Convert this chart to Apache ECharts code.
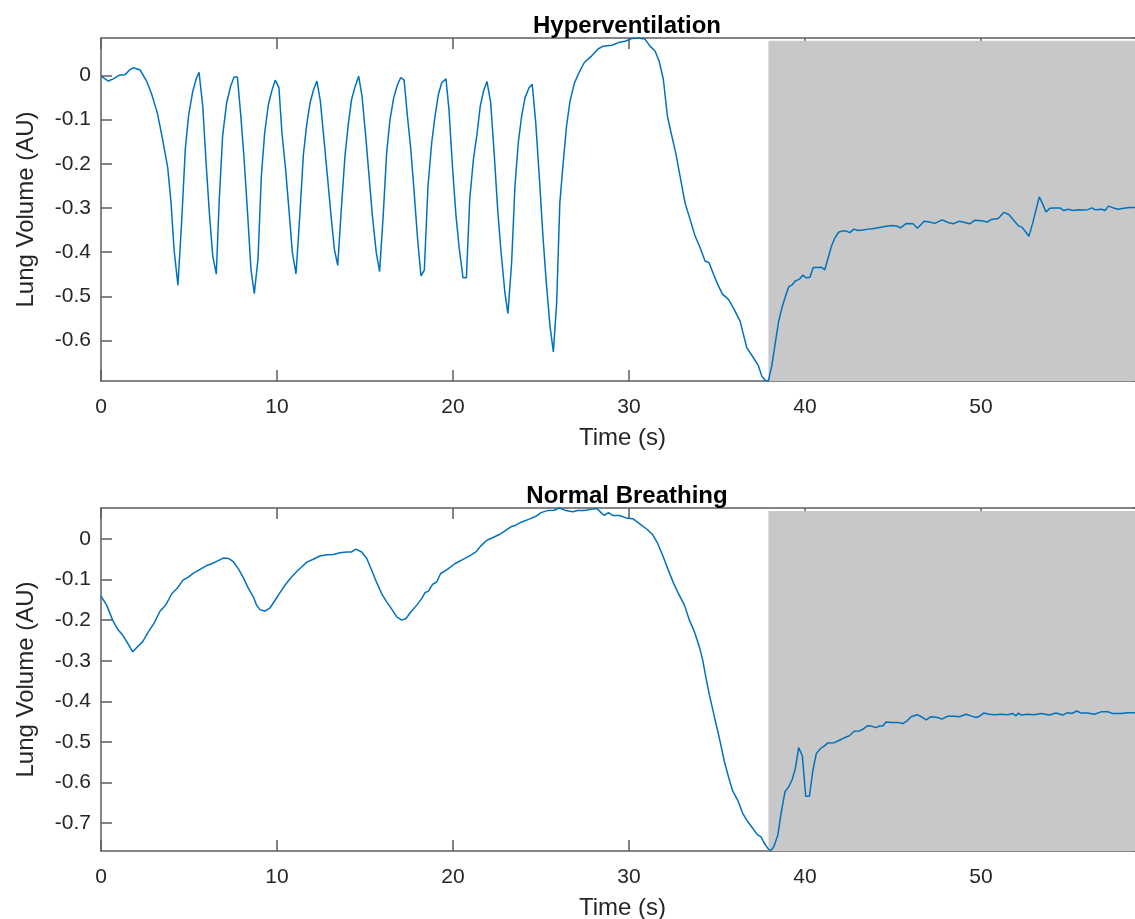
<!DOCTYPE html>
<html>
<head>
<meta charset="utf-8">
<title>Lung Volume</title>
<script src="https://cdn.jsdelivr.net/npm/echarts@6/dist/echarts.min.js"></script>
<style>
  html, body { margin: 0; padding: 0; background: #ffffff; }
  #chart { width: 1135px; height: 919px; }
</style>
</head>
<body>
<div id="chart"></div>
<script>
// Panel titles and axis names
const panelTitles = ['Hyperventilation', 'Normal Breathing'];
const xAxisName = 'Time (s)';
const yAxisName = 'Lung Volume (AU)';

// Hyperventilation trace: [time (s), lung volume (AU)]
const hyperSamples = [
  [0, -0.002], [0.42, -0.013], [0.70, -0.008], [1.02, 0.000], [1.36, 0.001], [1.65, 0.013],
  [1.84, 0.017], [2.22, 0.012], [2.59, -0.013], [2.88, -0.043], [3.2, -0.085], [3.5, -0.145],
  [3.79, -0.209], [3.98, -0.288], [4.15, -0.394], [4.37, -0.475], [4.58, -0.333], [4.79, -0.167],
  [4.98, -0.090], [5.2, -0.039], [5.4, -0.009], [5.57, 0.007], [5.78, -0.069], [5.97, -0.198],
  [6.16, -0.313], [6.35, -0.409], [6.55, -0.450], [6.72, -0.281], [6.91, -0.137], [7.14, -0.062],
  [7.37, -0.024], [7.56, -0.004], [7.75, -0.004], [7.93, -0.085], [8.12, -0.183], [8.33, -0.313],
  [8.52, -0.439], [8.71, -0.494], [8.92, -0.416], [9.11, -0.228], [9.3, -0.130], [9.51, -0.066],
  [9.72, -0.033], [9.9, -0.011], [10.11, -0.028], [10.28, -0.130], [10.49, -0.213], [10.68, -0.305],
  [10.87, -0.400], [11.08, -0.449], [11.27, -0.333], [11.5, -0.179], [11.69, -0.111], [11.88, -0.062],
  [12.08, -0.032], [12.27, -0.013], [12.46, -0.058], [12.65, -0.137], [12.88, -0.235], [13.07, -0.318],
  [13.26, -0.394], [13.45, -0.430], [13.65, -0.305], [13.86, -0.183], [14.05, -0.111], [14.24, -0.054],
  [14.45, -0.024], [14.64, -0.002], [14.83, -0.047], [15.04, -0.137], [15.23, -0.228], [15.42, -0.318],
  [15.64, -0.401], [15.83, -0.444], [16.04, -0.313], [16.23, -0.175], [16.42, -0.100], [16.63, -0.051],
  [16.84, -0.022], [17.03, -0.005], [17.22, -0.011], [17.41, -0.092], [17.6, -0.167], [17.78, -0.258],
  [17.99, -0.371], [18.18, -0.454], [18.37, -0.441], [18.58, -0.250], [18.79, -0.152], [18.98, -0.092],
  [19.17, -0.043], [19.36, -0.017], [19.6, -0.008], [19.77, -0.077], [19.98, -0.213], [20.17, -0.318],
  [20.36, -0.394], [20.57, -0.458], [20.76, -0.458], [20.95, -0.281], [21.16, -0.190], [21.36, -0.134],
  [21.55, -0.069], [21.74, -0.035], [21.93, -0.014], [22.14, -0.062], [22.35, -0.183], [22.54, -0.305],
  [22.73, -0.401], [22.95, -0.492], [23.12, -0.539], [23.33, -0.424], [23.52, -0.250], [23.71, -0.152],
  [23.9, -0.092], [24.09, -0.051], [24.32, -0.028], [24.5, -0.020], [24.7, -0.107], [24.9, -0.228],
  [25.11, -0.364], [25.3, -0.469], [25.51, -0.567], [25.7, -0.626], [25.89, -0.514], [26.07, -0.288],
  [26.26, -0.198], [26.45, -0.115], [26.65, -0.058], [26.9, -0.017], [27.16, 0.006], [27.46, 0.029],
  [27.88, 0.044], [28.26, 0.060], [28.54, 0.066], [29.02, 0.068], [29.4, 0.074], [29.77, 0.077],
  [30.15, 0.083], [30.53, 0.0844], [30.91, 0.082], [31.19, 0.066], [31.48, 0.055], [31.71, 0.032],
  [31.95, -0.009], [32.18, -0.092], [32.43, -0.137], [32.65, -0.175], [32.9, -0.228], [33.18, -0.288],
  [33.47, -0.326], [33.75, -0.363], [34.04, -0.390], [34.32, -0.420], [34.55, -0.424], [34.8, -0.450],
  [35.04, -0.473], [35.31, -0.495], [35.65, -0.507], [35.93, -0.526], [36.31, -0.556], [36.69, -0.616],
  [37.07, -0.639], [37.35, -0.657], [37.54, -0.680], [37.73, -0.690], [37.92, -0.6916], [38.12, -0.655],
  [38.31, -0.606], [38.5, -0.557], [38.7, -0.524], [38.89, -0.500], [39.08, -0.478], [39.27, -0.474],
  [39.46, -0.465], [39.69, -0.461], [39.88, -0.452], [40.05, -0.458], [40.28, -0.457], [40.47, -0.435],
  [40.73, -0.435], [40.93, -0.434], [41.12, -0.440], [41.31, -0.414], [41.49, -0.388], [41.68, -0.369],
  [41.91, -0.355], [42.1, -0.352], [42.31, -0.352], [42.54, -0.356], [42.78, -0.348], [43.01, -0.351],
  [43.29, -0.350], [43.58, -0.348], [43.86, -0.347], [44.15, -0.345], [44.53, -0.342], [44.9, -0.340],
  [45.19, -0.341], [45.42, -0.345], [45.76, -0.335], [46.14, -0.336], [46.39, -0.346], [46.77, -0.330],
  [47.08, -0.332], [47.37, -0.335], [47.79, -0.327], [48.13, -0.333], [48.41, -0.336], [48.79, -0.330],
  [49.08, -0.333], [49.36, -0.336], [49.64, -0.328], [50.02, -0.329], [50.36, -0.332], [50.59, -0.326],
  [50.97, -0.324], [51.31, -0.310], [51.58, -0.315], [51.83, -0.327], [52.11, -0.340], [52.34, -0.344],
  [52.53, -0.354], [52.72, -0.364], [52.93, -0.335], [53.12, -0.305], [53.31, -0.275], [53.5, -0.291],
  [53.69, -0.309], [53.91, -0.301], [54.2, -0.300], [54.48, -0.300], [54.71, -0.306], [54.96, -0.303],
  [55.24, -0.306], [55.53, -0.304], [55.81, -0.305], [56.06, -0.304], [56.29, -0.300], [56.48, -0.304],
  [56.86, -0.303], [57.05, -0.306], [57.24, -0.296], [57.52, -0.300], [57.81, -0.303], [58.1, -0.301],
  [58.47, -0.299], [58.75, -0.299], [59.26, -0.300]
];

// Normal breathing trace: [time (s), lung volume (AU)]
const normalSamples = [
  [0, -0.141], [0.32, -0.163], [0.66, -0.200], [0.93, -0.221], [1.23, -0.237], [1.52, -0.257],
  [1.8, -0.278], [2.06, -0.266], [2.37, -0.253], [2.69, -0.229], [3.01, -0.208], [3.35, -0.178],
  [3.69, -0.162], [4.02, -0.135], [4.34, -0.121], [4.64, -0.102], [4.96, -0.094], [5.25, -0.084],
  [5.63, -0.075], [5.97, -0.066], [6.29, -0.061], [6.57, -0.055], [6.95, -0.047], [7.24, -0.048],
  [7.52, -0.056], [7.8, -0.073], [8.09, -0.096], [8.37, -0.121], [8.66, -0.143], [8.84, -0.163],
  [9.03, -0.174], [9.32, -0.178], [9.6, -0.170], [9.89, -0.151], [10.17, -0.132], [10.45, -0.114],
  [10.74, -0.098], [11.12, -0.080], [11.4, -0.069], [11.69, -0.057], [12.06, -0.050], [12.44, -0.042],
  [12.82, -0.039], [13.2, -0.038], [13.58, -0.034], [13.96, -0.032], [14.24, -0.032], [14.49, -0.025],
  [14.81, -0.032], [15.1, -0.048], [15.38, -0.077], [15.66, -0.107], [15.95, -0.135], [16.23, -0.155],
  [16.52, -0.173], [16.8, -0.192], [17.09, -0.200], [17.33, -0.196], [17.6, -0.180], [17.94, -0.163],
  [18.22, -0.147], [18.41, -0.132], [18.6, -0.129], [18.84, -0.112], [19.07, -0.106], [19.3, -0.085],
  [19.68, -0.075], [20.1, -0.061], [20.54, -0.051], [20.92, -0.042], [21.3, -0.032], [21.58, -0.017],
  [21.93, -0.003], [22.25, 0.003], [22.63, 0.011], [22.91, 0.019], [23.29, 0.030], [23.57, 0.034],
  [23.9, 0.042], [24.33, 0.049], [24.71, 0.056], [25.0, 0.065], [25.37, 0.070], [25.75, 0.071],
  [26.04, 0.0764], [26.42, 0.070], [26.8, 0.067], [27.08, 0.070], [27.46, 0.070], [27.84, 0.073],
  [28.18, 0.075], [28.41, 0.065], [28.6, 0.058], [28.83, 0.065], [29.07, 0.058], [29.45, 0.058],
  [29.83, 0.052], [30.21, 0.050], [30.59, 0.038], [31.02, 0.024], [31.34, 0.011], [31.63, -0.011],
  [31.91, -0.040], [32.2, -0.073], [32.54, -0.110], [32.86, -0.139], [33.15, -0.163], [33.43, -0.200],
  [33.72, -0.229], [34.0, -0.266], [34.19, -0.299], [34.38, -0.344], [34.57, -0.385], [34.85, -0.438],
  [35.14, -0.492], [35.42, -0.549], [35.67, -0.589], [35.89, -0.621], [36.18, -0.644], [36.46, -0.676],
  [36.75, -0.697], [37.03, -0.713], [37.28, -0.728], [37.5, -0.734], [37.69, -0.750], [37.88, -0.762],
  [38.03, -0.769], [38.22, -0.759], [38.45, -0.731], [38.64, -0.676], [38.86, -0.623], [39.07, -0.611],
  [39.26, -0.594], [39.45, -0.566], [39.64, -0.514], [39.85, -0.535], [40.04, -0.634], [40.25, -0.634],
  [40.45, -0.570], [40.64, -0.529], [40.87, -0.517], [41.1, -0.510], [41.29, -0.503], [41.67, -0.502],
  [41.95, -0.496], [42.24, -0.490], [42.52, -0.485], [42.8, -0.474], [43.09, -0.473], [43.28, -0.469],
  [43.56, -0.460], [43.75, -0.461], [44.04, -0.465], [44.23, -0.461], [44.42, -0.461], [44.6, -0.451],
  [44.89, -0.452], [45.27, -0.452], [45.55, -0.455], [45.8, -0.448], [46.03, -0.438], [46.37, -0.433],
  [46.6, -0.438], [46.88, -0.446], [47.16, -0.438], [47.54, -0.440], [47.77, -0.444], [48.11, -0.437],
  [48.49, -0.437], [48.77, -0.438], [49.15, -0.432], [49.43, -0.436], [49.72, -0.440], [49.91, -0.437],
  [50.15, -0.429], [50.47, -0.432], [50.76, -0.433], [51.14, -0.432], [51.51, -0.433], [51.8, -0.430],
  [51.99, -0.436], [52.12, -0.429], [52.27, -0.434], [52.65, -0.432], [53.03, -0.433], [53.41, -0.430],
  [53.88, -0.434], [54.26, -0.429], [54.64, -0.434], [54.92, -0.428], [55.15, -0.430], [55.45, -0.424],
  [55.68, -0.429], [56.06, -0.429], [56.44, -0.432], [56.82, -0.426], [57.2, -0.426], [57.48, -0.430],
  [57.95, -0.430], [58.33, -0.428], [58.71, -0.428], [59.26, -0.428]
];

// Shaded recovery window: start time and upper edge of the patch in each panel
const shadeStart = 37.92;
const shadeTops = [0.078, 0.069];

const tracks = [hyperSamples, normalSamples];

const FONT = '"Liberation Sans", Arial, Helvetica, sans-serif';
const INK = '#262626';
const boxLine = { color: '#5e5e5e', width: 1.5 };

const extent = (arr, i) => [Math.min(...arr.map(p => p[i])), Math.max(...arr.map(p => p[i]))];

const gridTops = [38, 508];
const grids = [], xAxes = [], yAxes = [], series = [], titles = [];

tracks.forEach((samples, k) => {
  const [xMin, xMax] = extent(samples, 0);
  const [yMin, yMax] = extent(samples, 1);
  // The axes box runs slightly past the right edge of the canvas
  grids.push({
    left: 101, top: gridTops[k], width: 1043, height: 343,
    containLabel: false, outerBoundsMode: 'none'
  });

  const xCommon = {
    type: 'value', gridIndex: k, min: xMin, max: xMax,
    minInterval: 10, maxInterval: 10,
    axisLine: { show: true, onZero: false, lineStyle: boxLine },
    axisTick: { show: true, inside: true, length: 11, lineStyle: boxLine },
    splitLine: { show: false }
  };
  xAxes.push(Object.assign({}, xCommon, {
    position: 'bottom',
    name: xAxisName, nameLocation: 'middle', nameGap: 45,
    nameTextStyle: { fontFamily: FONT, fontSize: 24, color: INK },
    axisLabel: { show: true, margin: 16, fontFamily: FONT, fontSize: 21, color: INK,
                 showMinLabel: true, showMaxLabel: false }
  }));
  xAxes.push(Object.assign({}, xCommon, { position: 'top', axisLabel: { show: false } }));

  const yCommon = {
    type: 'value', gridIndex: k, min: yMin, max: yMax,
    minInterval: 0.1, maxInterval: 0.1,
    axisLine: { show: true, onZero: false, lineStyle: boxLine },
    axisTick: { show: true, inside: true, length: 11, lineStyle: boxLine },
    splitLine: { show: false }
  };
  yAxes.push(Object.assign({}, yCommon, {
    position: 'left',
    name: yAxisName, nameLocation: 'middle', nameGap: 63, nameRotate: 90,
    nameTextStyle: { fontFamily: FONT, fontSize: 24, color: INK },
    axisLabel: { show: true, margin: 10, fontFamily: FONT, fontSize: 21, color: INK,
                 showMinLabel: false, showMaxLabel: false }
  }));
  yAxes.push(Object.assign({}, yCommon, { position: 'right', axisLabel: { show: false } }));

  series.push({
    type: 'line',
    xAxisIndex: 2 * k, yAxisIndex: 2 * k,
    data: samples,
    showSymbol: false,
    symbol: 'none',
    lineStyle: { color: '#0072BD', width: 1.5 },
    z: 3,
    markArea: {
      silent: true,
      itemStyle: { color: '#c8c8c8' },
      data: [[{ coord: [shadeStart, yMin] }, { coord: [xMax, shadeTops[k]] }]]
    }
  });

  titles.push({
    text: panelTitles[k], left: 622, top: gridTops[k] - 29, textAlign: 'center',
    textStyle: { fontFamily: FONT, fontSize: 24, fontWeight: 'bold', color: '#000000' }
  });
});

const chart = echarts.init(document.getElementById('chart'), null, { renderer: 'canvas' });
chart.setOption({
  animation: false,
  backgroundColor: '#ffffff',
  title: titles,
  grid: grids,
  xAxis: xAxes,
  yAxis: yAxes,
  series: series
});
</script>
</body>
</html>
